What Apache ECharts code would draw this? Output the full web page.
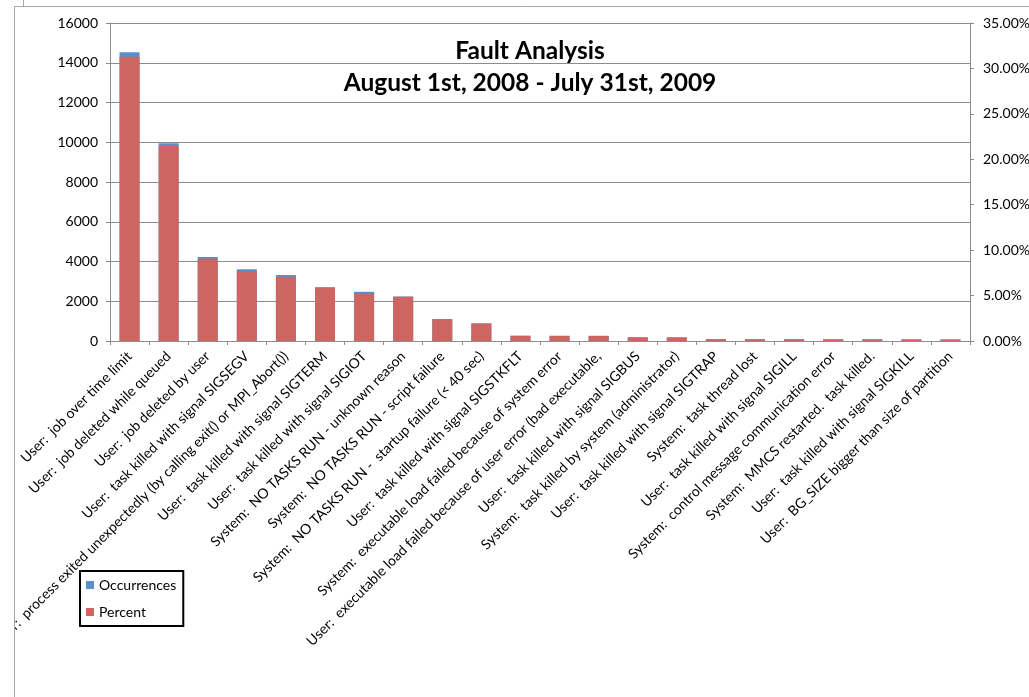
<!DOCTYPE html>
<html>
<head>
<meta charset="utf-8">
<script src="https://cdn.jsdelivr.net/npm/echarts@6/dist/echarts.min.js"></script>
<style>html,body{margin:0;padding:0;background:#fff;}#c{width:1029px;height:697px;}</style>
</head>
<body>
<div id="c"></div>
<script>
const categories = [
  "User:  job over time limit",
  "User:  job deleted while queued",
  "User:  job deleted by user",
  "User:  task killed with signal SIGSEGV",
  "User:  process exited unexpectedly (by calling exit() or MPI_Abort())",
  "User:  task killed with signal SIGTERM",
  "User:  task killed with signal SIGIOT",
  "System:  NO TASKS RUN - unknown reason",
  "System:  NO TASKS RUN - script failure",
  "System:  NO TASKS RUN -  startup failure (< 40 sec)",
  "User:  task killed with signal SIGSTKFLT",
  "System:  executable load failed because of system error",
  "User:  executable load failed because of user error (bad executable,",
  "User:  task killed with signal SIGBUS",
  "System:  task killed by system (administrator)",
  "User:  task killed with signal SIGTRAP",
  "System:  task thread lost",
  "User:  task killed with signal SIGILL",
  "System:  control message communication error",
  "System:  MMCS restarted.  task killed.",
  "User:  task killed with signal SIGKILL",
  "User:  BG_SIZE bigger than size of partition"
];
const occurrences = [14530, 9950, 4225, 3605, 3320, 2705, 2480, 2240, 1105, 890, 265, 262, 260, 185, 182, 95, 92, 88, 85, 82, 78, 75];
const percent = [0.3129, 0.2146, 0.0906, 0.0770, 0.0708, 0.0590, 0.0528, 0.0487, 0.0237, 0.0192, 0.0057, 0.0056, 0.0056, 0.0040, 0.0039, 0.0020, 0.0019, 0.0019, 0.0018, 0.0018, 0.0017, 0.0016];
const leftTicks = {min: 0, max: 16000, interval: 2000};
const rightTicks = {min: 0, max: 0.35, interval: 0.05};

const FONT = 'Lato';
const chart = echarts.init(document.getElementById('c'), null, {renderer: 'canvas'});
chart.setOption({
  animation: false,
  backgroundColor: '#fff',
  textStyle: {fontFamily: FONT},
  title: {
    text: 'Fault Analysis\nAugust 1st, 2008 - July 31st, 2009',
    left: 525, top: 30, textAlign: 'center',
    textStyle: {fontFamily: FONT, fontSize: 24.5, fontWeight: 'bold', color: '#000', lineHeight: 32}
  },
  legend: {
    orient: 'vertical', left: 80, top: 571,
    data: ['Occurrences', 'Percent'],
    itemWidth: 8, itemHeight: 8, itemGap: 11, itemTextGap: 5,
    icon: 'rect',
    padding: [6, 7, 6, 6],
    borderColor: '#000', borderWidth: 2, backgroundColor: '#fff',
    textStyle: {fontFamily: FONT, fontSize: 14, color: '#000', lineHeight: 16}
  },
  grid: {left: 110, right: 59, top: 23, bottom: 356, containLabel: false, outerBoundsMode: 'none'},
  xAxis: {
    type: 'category', data: categories,
    axisLine: {lineStyle: {color: '#8c8c8c', width: 1}},
    axisTick: {show: true, length: 4, lineStyle: {color: '#8c8c8c'}},
    axisLabel: {rotate: 45, interval: 0, margin: 13, fontFamily: FONT, fontSize: 14, color: '#000'}
  },
  yAxis: [
    {
      type: 'value', min: leftTicks.min, max: leftTicks.max, interval: leftTicks.interval,
      axisLine: {show: true, lineStyle: {color: '#8c8c8c'}},
      axisTick: {show: true, length: 4, lineStyle: {color: '#8c8c8c'}},
      axisLabel: {margin: 12, fontFamily: FONT, fontSize: 14, color: '#000', formatter: v => String(v)},
      splitLine: {show: true, lineStyle: {color: '#8c8c8c', width: 1}}
    },
    {
      type: 'value', min: rightTicks.min, max: rightTicks.max, interval: rightTicks.interval,
      position: 'right',
      axisLine: {show: true, lineStyle: {color: '#8c8c8c'}},
      axisTick: {show: true, length: 4, lineStyle: {color: '#8c8c8c'}},
      axisLabel: {margin: 13, fontFamily: FONT, fontSize: 14, color: '#000',
        formatter: v => (v * 100).toFixed(2) + '%'},
      splitLine: {show: false}
    }
  ],
  series: [
    {
      name: 'Occurrences', type: 'bar', yAxisIndex: 0, data: occurrences,
      barWidth: 20, barGap: '-100%',
      itemStyle: {color: '#5a8fcb'}
    },
    {
      name: 'Percent', type: 'bar', yAxisIndex: 1, data: percent,
      barWidth: 20, barGap: '-100%',
      itemStyle: {color: '#cd6660'}
    }
  ],
  graphic: [
    {type: 'rect', z: 100, shape: {x: 0, y: 0, width: 14, height: 697}, style: {fill: '#fff'}},
    {type: 'rect', z: 101, shape: {x: 14.5, y: 6.5, width: 1200, height: 900}, style: {fill: 'none', stroke: '#a6a6a6', lineWidth: 1}},
    {type: 'line', z: 101, shape: {x1: 23.5, y1: 0, x2: 23.5, y2: 6}, style: {stroke: '#a6a6a6', lineWidth: 1}}
  ]
});
</script>
</body>
</html>
